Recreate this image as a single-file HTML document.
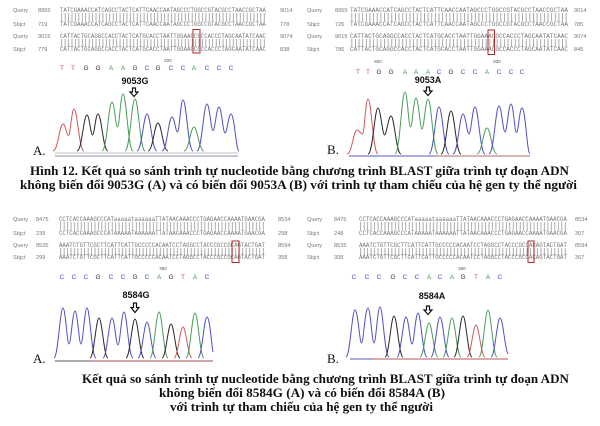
<!DOCTYPE html>
<html>
<head>
<meta charset="utf-8">
<style>
html,body{margin:0;padding:0;background:#fff;}
svg{display:block;}
.lab{font-family:"Liberation Sans",sans-serif;font-size:5.6px;fill:#777;}
.seq{font-family:"Liberation Mono",monospace;font-size:6px;fill:#777;}
.bs{font-family:"Liberation Sans",sans-serif;font-size:6.5px;text-anchor:middle;}
.pos{font-family:"Liberation Sans",sans-serif;font-size:4.5px;fill:#555;text-anchor:middle;}
.mut{font-family:"Liberation Sans",sans-serif;font-size:9px;font-weight:bold;fill:#111;text-anchor:middle;}
.pl{font-family:"Liberation Serif",serif;font-size:13px;fill:#111;}
.cap{font-family:"Liberation Serif","Noto Serif CJK SC",serif;font-size:12.5px;font-weight:bold;fill:#111;}
.T{fill:#d04848;} .G{fill:#333;} .A{fill:#3c9a4c;} .C{fill:#4a4ac8;}
.tr path{fill:none;stroke-width:1;stroke-linejoin:round;}
.r{stroke:#d05a5a;} .k{stroke:#2a2a2a;} .g{stroke:#4a9e5a;} .b{stroke:#5050c8;}
</style>
</head>
<body>
<svg width="600" height="426" viewBox="0 0 600 426" xmlns="http://www.w3.org/2000/svg">
<defs>
<pattern id="pTL" x="60" y="0" width="3.433" height="20" patternUnits="userSpaceOnUse"><line x1="1.7" y1="0" x2="1.7" y2="20" stroke="#888" stroke-width="0.7"/></pattern>
<pattern id="pTR" x="350" y="0" width="3.633" height="20" patternUnits="userSpaceOnUse"><line x1="1.8" y1="0" x2="1.8" y2="20" stroke="#888" stroke-width="0.7"/></pattern>
<pattern id="pBL" x="59" y="0" width="3.433" height="20" patternUnits="userSpaceOnUse"><line x1="1.7" y1="0" x2="1.7" y2="20" stroke="#888" stroke-width="0.7"/></pattern>
<pattern id="pBR" x="359" y="0" width="3.467" height="20" patternUnits="userSpaceOnUse"><line x1="1.7" y1="0" x2="1.7" y2="20" stroke="#888" stroke-width="0.7"/></pattern>
</defs>
<rect width="600" height="426" fill="#fff"/>

<!-- ===== TOP LEFT ===== -->
<text class="lab" x="13" y="12">Query</text><text class="lab" x="38" y="12">8955</text>
<text class="seq" x="60" y="12" textLength="206" lengthAdjust="spacingAndGlyphs">TATCGAAACCATCAGCCTACTCATTCAACCAATAGCCCTGGCCGTACGCCTAACCGCTAA</text>
<text class="lab" x="280" y="12">9014</text>
<rect x="60" y="13" width="206" height="8" fill="url(#pTL)"/>
<text class="lab" x="13" y="26">Sbjct</text><text class="lab" x="38" y="26">719</text>
<text class="seq" x="60" y="26" textLength="206" lengthAdjust="spacingAndGlyphs">TATCGAAACCATCAGCCTACTCATTCAACCAATAGCCCTGGCCGTACGCCTAACCGCTAA</text>
<text class="lab" x="280" y="26">778</text>
<text class="lab" x="13" y="38">Query</text><text class="lab" x="38" y="38">9015</text>
<text class="seq" x="60" y="38" textLength="206" lengthAdjust="spacingAndGlyphs">CATTACTGCAGGCCACCTACTCATGCACCTAATTGGAAGCGCCACCCTAGCAATATCAAC</text>
<text class="lab" x="280" y="38">9074</text>
<rect x="60" y="39" width="206" height="8" fill="url(#pTL)"/>
<text class="lab" x="13" y="51">Sbjct</text><text class="lab" x="38" y="51">779</text>
<text class="seq" x="60" y="51" textLength="206" lengthAdjust="spacingAndGlyphs">CATTACTGCAGGCCACCTACTCATGCACCTAATTGGAAGCGCCACCCTAGCAATATCAAC</text>
<text class="lab" x="280" y="51">838</text>
<rect x="193" y="29.5" width="7" height="23.5" fill="none" stroke="#b02828" stroke-width="1"/>

<text class="pos" x="168" y="62">820</text>
<g>
<text class="bs T" x="62" y="70">T</text><text class="bs T" x="73" y="70">T</text>
<text class="bs G" x="86" y="70">G</text><text class="bs G" x="98" y="70">G</text>
<text class="bs A" x="111" y="70">A</text><text class="bs A" x="123" y="70">A</text>
<text class="bs G" x="135" y="70">G</text><text class="bs C" x="147" y="70">C</text>
<text class="bs G" x="158" y="70">G</text><text class="bs C" x="171" y="70">C</text>
<text class="bs C" x="183" y="70">C</text><text class="bs A" x="194" y="70">A</text>
<text class="bs C" x="207" y="70">C</text><text class="bs C" x="219" y="70">C</text>
<text class="bs C" x="231" y="70">C</text>
</g>
<text class="mut" x="135" y="84">9053G</text>
<polygon points="132.5,88 135.5,88 135.5,92 138,92 134,96.5 130,92 132.5,92" fill="#fff" stroke="#111" stroke-width="1.2"/>

<line x1="55" y1="153" x2="238" y2="153" stroke="#aaa" stroke-width="0.8"/>
<line x1="55" y1="156" x2="238" y2="156" stroke="#8890a8" stroke-width="0.9"/>
<g class="tr">
<path class="r" d="M53,151 C58,151 59.5,124 63,124 C65.5,124 66.5,135.5 68.5,135.5 C70.5,135.5 71.5,109 74,109 C77.5,109 79,151 84,151"/>
<path class="k" d="M77,151 C82,151 83.5,115 87,115 C89.5,115 90.5,135 92.5,135 C94.5,135 95.5,114 98,114 C101.5,114 103,151 108,151"/>
<path class="g" d="M102,151 C107,151 108.5,102 112,102 C114.5,102 115.5,127 117.5,127 C119.5,127 120.5,94 123,94 C126.5,94 128,151 133,151"/>
<path class="g" d="M125,151 C130,151 131.5,99 135,99 C138.5,99 140,151 145,151"/>
<path class="b" d="M137,151 C142,151 143.5,114 147,114 C150.5,114 152,151 157,151"/>
<path class="k" d="M148,151 C153,151 154.5,123 158,123 C161.5,123 163,151 168,151"/>
<path class="b" d="M162,151 C167,151 168.5,117 172,117 C174.5,117 175.5,132 177.5,132 C179.5,132 180.5,100 183,100 C186.5,100 188,151 193,151"/>
<path class="g" d="M184,151 C189,151 190.5,127 194,127 C197.5,127 199,151 204,151"/>
<path class="b" d="M197,151 C202,151 203.5,104 207,104 C209.5,104 211,130.5 213,130.5 C215,130.5 216.5,107 219,107 C221.5,107 223,133 225,133 C227,133 228.5,114 231,114 C234.5,114 236,151 239,151"/>
</g>
<text class="pl" x="33" y="155">A.</text>

<!-- ===== TOP RIGHT ===== -->
<text class="lab" x="307" y="12">Query</text><text class="lab" x="335" y="12">8955</text>
<text class="seq" x="350" y="12" textLength="218" lengthAdjust="spacingAndGlyphs">TATCGAAACCATCAGCCTACTCATTCAACCAATAGCCCTGGCCGTACGCCTAACCGCTAA</text>
<text class="lab" x="574" y="12">9014</text>
<rect x="350" y="13" width="218" height="8" fill="url(#pTR)"/>
<text class="lab" x="307" y="26">Sbjct</text><text class="lab" x="335" y="26">726</text>
<text class="seq" x="350" y="26" textLength="218" lengthAdjust="spacingAndGlyphs">TATCGAAACCATCAGCCTACTCATTCAACCAATAGCCCTGGCCGTACGCCTAACCGCTAA</text>
<text class="lab" x="574" y="26">785</text>
<text class="lab" x="307" y="38">Query</text><text class="lab" x="335" y="38">9015</text>
<text class="seq" x="350" y="38" textLength="218" lengthAdjust="spacingAndGlyphs">CATTACTGCAGGCCACCTACTCATGCACCTAATTGGAAACGCCACCCTAGCAATATCAAC</text>
<text class="lab" x="574" y="38">9074</text>
<rect x="350" y="39" width="218" height="8" fill="url(#pTR)"/>
<text class="lab" x="307" y="51">Sbjct</text><text class="lab" x="335" y="51">786</text>
<text class="seq" x="350" y="51" textLength="218" lengthAdjust="spacingAndGlyphs">CATTACTGCAGGCCACCTACTCATGCACCTAATTGGAAACGCCACCCTAGCAATATCAAC</text>
<text class="lab" x="574" y="51">845</text>
<rect x="488" y="30" width="6.5" height="24.5" fill="none" stroke="#b02828" stroke-width="1"/>

<text class="pos" x="378" y="63">820</text>
<text class="pos" x="497" y="63">830</text>
<g>
<text class="bs T" x="358" y="74">T</text><text class="bs T" x="368" y="74">T</text>
<text class="bs G" x="379" y="74">G</text><text class="bs G" x="391" y="74">G</text>
<text class="bs A" x="405" y="74">A</text><text class="bs A" x="416" y="74">A</text>
<text class="bs A" x="428" y="74">A</text><text class="bs C" x="439" y="74">C</text>
<text class="bs G" x="451" y="74">G</text><text class="bs C" x="463" y="74">C</text>
<text class="bs C" x="475" y="74">C</text><text class="bs A" x="487" y="74">A</text>
<text class="bs C" x="499" y="74">C</text><text class="bs C" x="511" y="74">C</text>
<text class="bs C" x="522" y="74">C</text>
</g>
<text class="mut" x="428" y="83">9053A</text>
<polygon points="426.5,87 429.5,87 429.5,91 432,91 428,95.5 424,91 426.5,91" fill="#fff" stroke="#111" stroke-width="1.2"/>

<line x1="349" y1="156" x2="436" y2="156" stroke="#5a5ac0" stroke-width="1"/>
<line x1="436" y1="156" x2="530" y2="156" stroke="#b86a6a" stroke-width="1"/>
<g class="tr">
<path class="r" d="M347,154 C352,154 353.5,130 357,130 C359.5,130 360.5,134 362.5,134 C364.5,134 365.5,99 368,99 C371.5,99 373,154 378,154"/>
<path class="k" d="M368,154 C373,154 374.5,108 378,108 C380.5,108 382.5,135 384.5,135 C386.5,135 388.5,116 391,116 C394.5,116 396,154 401,154"/>
<path class="g" d="M395,154 C400,154 401.5,92 405,92 C407.5,92 408.5,127 410.5,127 C412.5,127 413.5,98 416,98 C418.5,98 420,129 422,129 C424,129 425.5,99 428,99 C431.5,99 433,154 438,154"/>
<path class="b" d="M429,154 C434,154 435.5,107 439,107 C442.5,107 444,154 449,154"/>
<path class="k" d="M441,154 C446,154 447.5,111 451,111 C454.5,111 456,154 461,154"/>
<path class="b" d="M453,154 C458,154 459.5,114 463,114 C465.5,114 467,134 469,134 C471,134 472.5,107 475,107 C478.5,107 480,154 485,154"/>
<path class="g" d="M477,154 C482,154 483.5,128 487,128 C490.5,128 492,154 497,154"/>
<path class="b" d="M489,154 C494,154 495.5,106 499,106 C501.5,106 503,132 505,132 C507,132 508.5,104 511,104 C513.5,104 514.5,132.5 516.5,132.5 C518.5,132.5 519.5,108 522,108 C525.5,108 527,154 530,154"/>
</g>
<text class="pl" x="327" y="154">B.</text>

<!-- ===== TOP CAPTION ===== -->
<text class="cap" x="30" y="175" textLength="539" lengthAdjust="spacingAndGlyphs">Hình 12. Kết quả so sánh trình tự nucleotide bằng chương trình BLAST giữa trình tự đoạn ADN</text>
<text class="cap" x="20" y="189" textLength="557" lengthAdjust="spacingAndGlyphs">không biến đổi 9053G (A) và có biến đổi 9053A (B) với trình tự tham chiếu của hệ gen ty thể người</text>

<!-- ===== BOTTOM LEFT ===== -->
<text class="lab" x="13" y="221">Query</text><text class="lab" x="36" y="221">8475</text>
<text class="seq" x="59" y="221" textLength="206" lengthAdjust="spacingAndGlyphs">CCTCACCAAAGCCCATaaaaataaaaaaTTATAACAAACCCTGAGAACCAAAATGAACGA</text>
<text class="lab" x="278" y="221">8534</text>
<rect x="59" y="222" width="206" height="8" fill="url(#pBL)"/>
<text class="lab" x="13" y="235">Sbjct</text><text class="lab" x="36" y="235">239</text>
<text class="seq" x="59" y="235" textLength="206" lengthAdjust="spacingAndGlyphs">CCTCACCAAAGCCCATAAAAATAAAAAATTATAACAAACCCTGAGAACCAAAATGAACGA</text>
<text class="lab" x="278" y="235">298</text>
<text class="lab" x="13" y="247">Query</text><text class="lab" x="36" y="247">8535</text>
<text class="seq" x="59" y="247" textLength="206" lengthAdjust="spacingAndGlyphs">AAATCTGTTCGCTTCATTCATTGCCCCCACAATCCTAGGCCTACCCGCCGCAGTACTGAT</text>
<text class="lab" x="278" y="247">8594</text>
<rect x="59" y="248" width="206" height="8" fill="url(#pBL)"/>
<text class="lab" x="13" y="259">Sbjct</text><text class="lab" x="36" y="259">299</text>
<text class="seq" x="59" y="259" textLength="206" lengthAdjust="spacingAndGlyphs">AAATCTGTTCGCTTCATTCATTGCCCCCACAATCCTAGGCCTACCCGCCGCAGTACTGAT</text>
<text class="lab" x="278" y="259">358</text>
<rect x="232" y="241" width="7" height="21.5" fill="none" stroke="#b02828" stroke-width="1"/>

<text class="pos" x="163" y="270">350</text>
<g>
<text class="bs C" x="62" y="279">C</text><text class="bs C" x="74" y="279">C</text>
<text class="bs C" x="86" y="279">C</text><text class="bs G" x="98" y="279">G</text>
<text class="bs C" x="111" y="279">C</text><text class="bs C" x="123" y="279">C</text>
<text class="bs G" x="135" y="279">G</text><text class="bs C" x="147" y="279">C</text>
<text class="bs A" x="159" y="279">A</text><text class="bs G" x="171" y="279">G</text>
<text class="bs T" x="183" y="279">T</text><text class="bs A" x="195" y="279">A</text>
<text class="bs C" x="207" y="279">C</text>
</g>
<text class="mut" x="136" y="298">8584G</text>
<polygon points="133.5,303 136.5,303 136.5,307.5 139,307.5 135,312.5 131,307.5 133.5,307.5" fill="#fff" stroke="#111" stroke-width="1.2"/>

<line x1="55" y1="361" x2="90" y2="361" stroke="#555" stroke-width="1"/>
<line x1="90" y1="361" x2="213" y2="361" stroke="#a84848" stroke-width="1"/>
<g class="tr">
<path class="b" d="M54,358 C58,358 60,308 63,308 C65.5,308 67,344 69,344 C71,344 72.5,311 75,311 C77.5,311 79,344 81,344 C83,344 84.5,308 87,308 C90,308 91.5,358 96,358"/>
<path class="k" d="M90,358 C94,358 96,318 99,318 C102,318 104,358 108,358"/>
<path class="b" d="M103,358 C107,358 109,318 112,318 C114.5,318 116,345 118,345 C120,345 121.5,312 124,312 C127,312 128.5,358 133,358"/>
<path class="k" d="M126,358 C130,358 132,319 135,319 C138,319 140,358 144,358"/>
<path class="b" d="M138,358 C142,358 144,322 147,322 C150,322 152,358 156,358"/>
<path class="g" d="M150,358 C154,358 156,312 159,312 C162,312 164,358 168,358"/>
<path class="k" d="M162,358 C166,358 168,324 171,324 C174,324 176,358 180,358"/>
<path class="r" d="M174,358 C178,358 180,327 183,327 C186,327 188,358 192,358"/>
<path class="g" d="M186,358 C190,358 192,313 195,313 C198,313 200,358 204,358"/>
<path class="b" d="M198,358 C202,358 204,317 207,317 C210,317 212,350 213,352"/>
</g>
<text class="pl" x="33" y="363">A.</text>

<!-- ===== BOTTOM RIGHT ===== -->
<text class="lab" x="307" y="221">Query</text><text class="lab" x="334" y="221">8475</text>
<text class="seq" x="359" y="221" textLength="208" lengthAdjust="spacingAndGlyphs">CCTCACCAAAGCCCATaaaaataaaaaaTTATAACAAACCCTGAGAACCAAAATGAACGA</text>
<text class="lab" x="575" y="221">8534</text>
<rect x="359" y="222" width="208" height="8" fill="url(#pBR)"/>
<text class="lab" x="307" y="235">Sbjct</text><text class="lab" x="334" y="235">248</text>
<text class="seq" x="359" y="235" textLength="208" lengthAdjust="spacingAndGlyphs">CCTCACCAAAGCCCATAAAAATAAAAAATTATAACAAACCCTGAGAACCAAAATGAACGA</text>
<text class="lab" x="575" y="235">307</text>
<text class="lab" x="307" y="247">Query</text><text class="lab" x="334" y="247">8535</text>
<text class="seq" x="359" y="247" textLength="208" lengthAdjust="spacingAndGlyphs">AAATCTGTTCGCTTCATTCATTGCCCCCACAATCCTAGGCCTACCCGCCACAGTACTGAT</text>
<text class="lab" x="575" y="247">8594</text>
<rect x="359" y="248" width="208" height="8" fill="url(#pBR)"/>
<text class="lab" x="307" y="259">Sbjct</text><text class="lab" x="334" y="259">308</text>
<text class="seq" x="359" y="259" textLength="208" lengthAdjust="spacingAndGlyphs">AAATCTGTTCGCTTCATTCATTGCCCCCACAATCCTAGGCCTACCCGCCACAGTACTGAT</text>
<text class="lab" x="575" y="259">367</text>
<rect x="528" y="241" width="6" height="21.5" fill="none" stroke="#b02828" stroke-width="1"/>

<text class="pos" x="462" y="270">360</text>
<g>
<text class="bs C" x="354" y="279">C</text><text class="bs C" x="367" y="279">C</text>
<text class="bs C" x="379" y="279">C</text><text class="bs G" x="393" y="279">G</text>
<text class="bs C" x="405" y="279">C</text><text class="bs C" x="417" y="279">C</text>
<text class="bs A" x="429" y="279">A</text><text class="bs C" x="440" y="279">C</text>
<text class="bs A" x="452" y="279">A</text><text class="bs G" x="463" y="279">G</text>
<text class="bs T" x="476" y="279">T</text><text class="bs A" x="488" y="279">A</text>
<text class="bs C" x="500" y="279">C</text>
</g>
<text class="mut" x="432" y="299">8584A</text>
<polygon points="426.5,306 429.5,306 429.5,310 432,310 428,314.5 424,310 426.5,310" fill="#fff" stroke="#111" stroke-width="1.2"/>

<line x1="350" y1="359" x2="372" y2="359" stroke="#5a5ac0" stroke-width="1"/>
<line x1="372" y1="359" x2="508" y2="359" stroke="#b05a5a" stroke-width="1"/>
<g class="tr">
<path class="b" d="M346,357 C350,357 352,310 355,310 C358,310 359.5,343 361.5,343 C363.5,343 365,308 368,308 C370.5,308 372,343 374,343 C376,343 377.5,307 380,307 C383,307 384.5,357 389,357"/>
<path class="k" d="M385,357 C389,357 391,316 394,316 C397,316 399,357 403,357"/>
<path class="b" d="M397,357 C401,357 403,317 406,317 C408.5,317 410,344 412,344 C414,344 415.5,313 418,313 C421,313 422.5,357 427,357"/>
<path class="g" d="M420,357 C424,357 426,323 429,323 C432,323 434,357 438,357"/>
<path class="b" d="M431,357 C435,357 437,317 440,317 C443,317 445,357 449,357"/>
<path class="g" d="M443,357 C447,357 449,318 452,318 C455,318 457,357 461,357"/>
<path class="k" d="M454,357 C458,357 460,316 463,316 C466,316 468,357 472,357"/>
<path class="r" d="M467,357 C471,357 473,325 476,325 C479,325 481,357 485,357"/>
<path class="g" d="M479,357 C483,357 485,310 488,310 C491,310 493,357 497,357"/>
<path class="b" d="M491,357 C495,357 497,318 500,318 C503,318 505,350 508,354"/>
</g>
<text class="pl" x="327" y="363">B.</text>

<!-- ===== BOTTOM CAPTION ===== -->
<text class="cap" x="82" y="383" textLength="487" lengthAdjust="spacingAndGlyphs">Kết quả so sánh trình tự nucleotide bằng chương trình BLAST giữa trình tự đoạn ADN</text>
<text class="cap" x="159" y="397" textLength="286" lengthAdjust="spacingAndGlyphs">không biến đổi 8584G (A) và có biến đổi 8584A (B)</text>
<text class="cap" x="170" y="411" textLength="263" lengthAdjust="spacingAndGlyphs">với trình tự tham chiếu của hệ gen ty thể người</text>
</svg>
</body>
</html>
